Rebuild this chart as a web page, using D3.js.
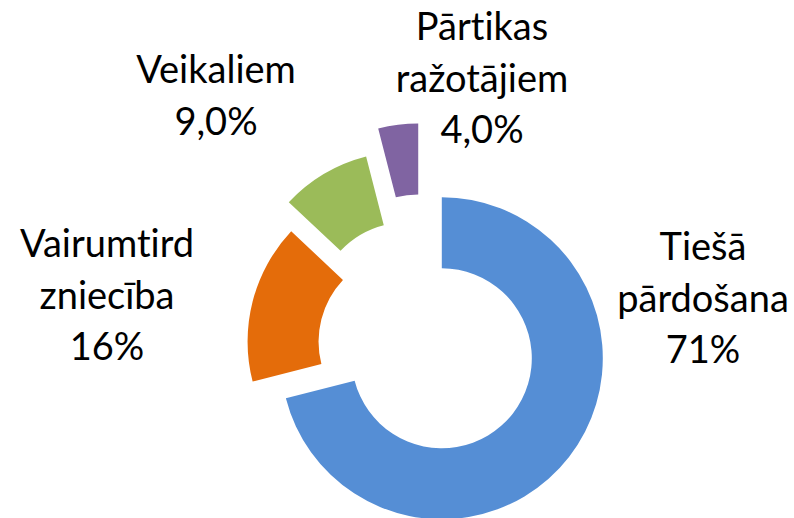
<!DOCTYPE html>
<meta charset="utf-8">
<style>
body { margin: 0; background: #fff; }
.label text {
  font-family: Lato, "Noto Sans", sans-serif;
  font-size: 38px;
  font-variant-ligatures: none;
  fill: #000;
  text-anchor: middle;
}
</style>
<body>
<script src="https://d3js.org/d3.v7.min.js"></script>
<script>

// data
var categories = ["Tiešā pārdošana", "Vairumtirdzniecība", "Veikaliem", "Pārtikas ražotājiem"];
var categoryLines = [["Tiešā", "pārdošana"], ["Vairumtird", "zniecība"], ["Veikaliem"], ["Pārtikas", "ražotājiem"]];
var values = [71, 16, 9, 4];
var valueLabels = ["71%", "16%", "9,0%", "4,0%"];

// styling / layout
var colors = ["#558ed5", "#e46c0a", "#9bbb59", "#8064a2"];
var explode = [20, 18, 39, 62];
var labelPos = [[703, 260], [107, 257], [216, 83], [482, 40]];
var lineHeight = 51.5;

var width = 794, height = 518;
var cx = 426, cy = 346,
    outerR = 161, innerR = 90;

var svg = d3.select("body").append("svg")
    .attr("width", width)
    .attr("height", height);

var pie = d3.pie().sort(null).value(function(d) { return d; });
var arc = d3.arc().innerRadius(innerR).outerRadius(outerR);

var arcs = pie(values);

// slices, each pushed out along its mid angle
svg.append("g")
    .attr("transform", "translate(" + cx + "," + cy + ")")
  .selectAll("path")
    .data(arcs)
  .enter().append("path")
    .attr("d", arc)
    .attr("fill", function(d, i) { return colors[i]; })
    .attr("transform", function(d, i) {
      var a = (d.startAngle + d.endAngle) / 2;
      return "translate(" + (Math.sin(a) * explode[i]) + "," + (-Math.cos(a) * explode[i]) + ")";
    });

// labels
var lab = svg.selectAll("g.label")
    .data(categories)
  .enter().append("g")
    .attr("class", "label")
    .attr("transform", function(d, i) { return "translate(" + labelPos[i][0] + "," + labelPos[i][1] + ")"; });

lab.each(function(d, i) {
  var lines = categoryLines[i].concat([valueLabels[i]]);
  d3.select(this).selectAll("text")
      .data(lines)
    .enter().append("text")
      .attr("x", 0)
      .attr("y", function(t, j) { return j * lineHeight; })
      .text(function(t) { return t; });
});

</script>
</body>
